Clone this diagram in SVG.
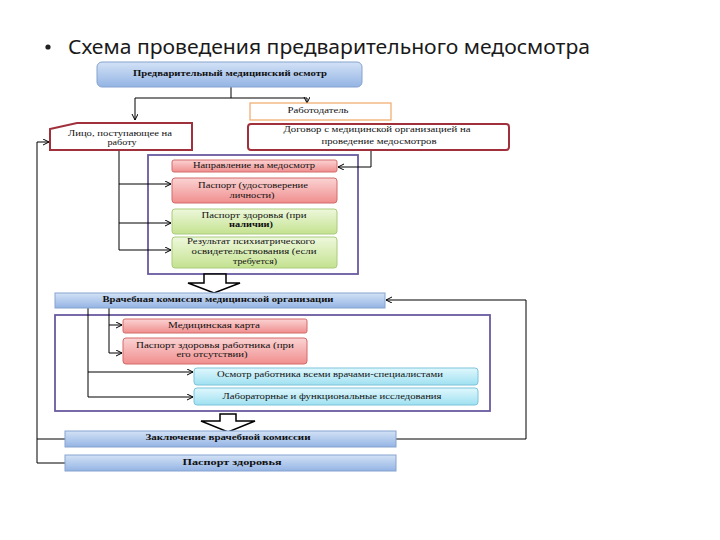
<svg xmlns="http://www.w3.org/2000/svg" width="720" height="540" viewBox="0 0 720 540">
<defs>
<linearGradient id="gBlue" x1="0" y1="0" x2="0" y2="1"><stop offset="0" stop-color="#d3e2f6"/><stop offset="1" stop-color="#94b4e4"/></linearGradient>
<linearGradient id="gPink" x1="0" y1="0" x2="0" y2="1"><stop offset="0" stop-color="#fbd3d3"/><stop offset="1" stop-color="#f08e8e"/></linearGradient>
<linearGradient id="gGreen" x1="0" y1="0" x2="0" y2="1"><stop offset="0" stop-color="#eef8dc"/><stop offset="1" stop-color="#c4e290"/></linearGradient>
<linearGradient id="gCyan" x1="0" y1="0" x2="0" y2="1"><stop offset="0" stop-color="#e0f8fd"/><stop offset="1" stop-color="#9fe0f1"/></linearGradient>
<marker id="arr" markerUnits="userSpaceOnUse" markerWidth="8" markerHeight="8" refX="6" refY="3" orient="auto"><path d="M0,0 L6,3 L0,6" fill="none" stroke="#000" stroke-width="1"/></marker>
<style>
.t{font-family:"Liberation Serif","Times New Roman",serif;font-size:7.5px;fill:#111;text-anchor:middle;dominant-baseline:middle}
.b{font-weight:bold}
.blue{fill:url(#gBlue);stroke:#86a3cf;stroke-width:1}
.pink{fill:url(#gPink);stroke:#d46a6a;stroke-width:1}
.green{fill:url(#gGreen);stroke:#aacb7c;stroke-width:1}
.cyan{fill:url(#gCyan);stroke:#7cc4da;stroke-width:1}
.frame{fill:none;stroke:#6a5aa0;stroke-width:1.8}
.c{fill:none;stroke:#000;stroke-width:1}
.ca{fill:none;stroke:#000;stroke-width:1;marker-end:url(#arr)}
.blk{fill:#fff;stroke:#000;stroke-width:1.5}
</style>
</defs>
<rect width="720" height="540" fill="#fff"/>
<g id="title">
<circle cx="48" cy="47" r="2.6" fill="#222"/>
<text x="68" y="54" font-family="Noto Sans, Liberation Sans, sans-serif" font-size="20" fill="#1a1a1a" textLength="522" lengthAdjust="spacingAndGlyphs">Схема проведения предварительного медосмотра</text>
</g>
<g id="frames">
<rect class="frame" x="148" y="155" width="210" height="119"/>
<rect class="frame" x="55" y="315" width="435" height="96"/>
</g>
<g id="connectors">
<path class="c" d="M231,87 V98 M135,98 H307"/>
<path class="ca" d="M135,98 V120"/>
<path class="ca" d="M307,98 V103"/>
<path class="ca" d="M371,150 V167 H338"/>
<path class="c" d="M119,150 V250"/>
<path class="ca" d="M119,184 H171"/>
<path class="ca" d="M119,223 H171"/>
<path class="ca" d="M119,250 H171"/>
<path class="c" d="M109,308 V353"/>
<path class="ca" d="M109,325 H122"/>
<path class="ca" d="M109,353 H122"/>
<path class="c" d="M88,308 V397"/>
<path class="ca" d="M88,372 H193"/>
<path class="ca" d="M88,397 H193"/>
<path class="ca" d="M396,439 H526 V300 H386"/>
<path class="ca" d="M65,463 H37 V142 H49"/>
<path class="c" d="M65,439 H37"/>
<polygon class="blk" points="204,274 226,274 226,283 240,283 214,293 188,283 204,283"/>
<polygon class="blk" points="220,414 236,414 236,421 255,421 228,432 201,421 220,421"/>
</g>
<g id="n-osmotr">
<rect class="blue" x="97" y="62" width="265" height="25" rx="5"/>
<text class="t b" x="230" y="74.5" textLength="194" lengthAdjust="spacingAndGlyphs">Предварительный медицинский осмотр</text>
</g>
<g id="n-rabotodatel">
<rect x="250" y="103" width="141" height="17" fill="#fff" stroke="#f0a868" stroke-width="1.2"/>
<text class="t" x="318" y="111.5" textLength="61" lengthAdjust="spacingAndGlyphs">Работодатель</text>
</g>
<g id="n-dogovor">
<rect x="248" y="124" width="261" height="26" rx="3" fill="#fff" stroke="#a0303c" stroke-width="2"/>
<text class="t" x="377" y="130.5" textLength="187" lengthAdjust="spacingAndGlyphs">Договор с медицинской организацией на</text>
<text class="t" x="379" y="142" textLength="115" lengthAdjust="spacingAndGlyphs">проведение медосмотров</text>
</g>
<g id="n-lico">
<polygon points="50,129 77,123 192,123 192,150 50,150" fill="#fff" stroke="#a0303c" stroke-width="2"/>
<text class="t" x="120" y="134" textLength="104" lengthAdjust="spacingAndGlyphs">Лицо, поступающее на</text>
<text class="t" x="122" y="143.5" textLength="29" lengthAdjust="spacingAndGlyphs">работу</text>
</g>
<g id="n-napravlenie">
<rect class="pink" x="172" y="160" width="165" height="12" rx="2"/>
<text class="t" x="254" y="166.5" textLength="122" lengthAdjust="spacingAndGlyphs">Направление на медосмотр</text>
</g>
<g id="n-pasport">
<rect class="pink" x="172" y="178" width="165" height="25" rx="3"/>
<text class="t" x="253" y="186" textLength="110" lengthAdjust="spacingAndGlyphs">Паспорт (удостоверение</text>
<text class="t" x="252" y="196.5" textLength="45" lengthAdjust="spacingAndGlyphs">личности)</text>
</g>
<g id="n-pasport-zdorovya">
<rect class="green" x="172" y="209" width="165" height="25" rx="3"/>
<text class="t" x="254" y="216" textLength="105" lengthAdjust="spacingAndGlyphs">Паспорт здоровья (при</text>
<text class="t b" x="251" y="225.5" textLength="44" lengthAdjust="spacingAndGlyphs">наличии)</text>
</g>
<g id="n-rezultat">
<rect class="green" x="172" y="237" width="165" height="31" rx="3"/>
<text class="t" x="251" y="242.5" textLength="128" lengthAdjust="spacingAndGlyphs">Результат психиатрического</text>
<text class="t" x="254" y="252.5" textLength="125" lengthAdjust="spacingAndGlyphs">освидетельствования (если</text>
<text class="t" x="255" y="262" textLength="44" lengthAdjust="spacingAndGlyphs">требуется)</text>
</g>
<g id="n-vrachebnaya">
<rect class="blue" x="55" y="293" width="330" height="15"/>
<text class="t b" x="218" y="300.5" textLength="231" lengthAdjust="spacingAndGlyphs">Врачебная комиссия медицинской организации</text>
</g>
<g id="n-medkarta">
<rect class="pink" x="123" y="319" width="184" height="14" rx="2"/>
<text class="t" x="214" y="326" textLength="92" lengthAdjust="spacingAndGlyphs">Медицинская карта</text>
</g>
<g id="n-pasport-rabotnika">
<rect class="pink" x="123" y="338" width="184" height="26" rx="3"/>
<text class="t" x="215" y="346" textLength="158" lengthAdjust="spacingAndGlyphs">Паспорт здоровья работника (при</text>
<text class="t" x="212" y="355.5" textLength="71" lengthAdjust="spacingAndGlyphs">его отсутствии)</text>
</g>
<g id="n-osmotr-vrachami">
<rect class="cyan" x="194" y="368" width="284" height="17" rx="3"/>
<text class="t" x="330" y="375" textLength="226" lengthAdjust="spacingAndGlyphs">Осмотр работника всеми врачами-специалистами</text>
</g>
<g id="n-laboratornye">
<rect class="cyan" x="194" y="388" width="284" height="17" rx="3"/>
<text class="t" x="332" y="397" textLength="219" lengthAdjust="spacingAndGlyphs">Лабораторные и функциональные исследования</text>
</g>
<g id="n-zaklyuchenie">
<rect class="blue" x="65" y="431" width="331" height="16"/>
<text class="t b" x="228" y="438.5" textLength="165" lengthAdjust="spacingAndGlyphs">Заключение врачебной комиссии</text>
</g>
<g id="n-pasport-itog">
<rect class="blue" x="65" y="455" width="331" height="16"/>
<text class="t b" x="232" y="463" textLength="99" lengthAdjust="spacingAndGlyphs">Паспорт здоровья</text>
</g>
</svg>
